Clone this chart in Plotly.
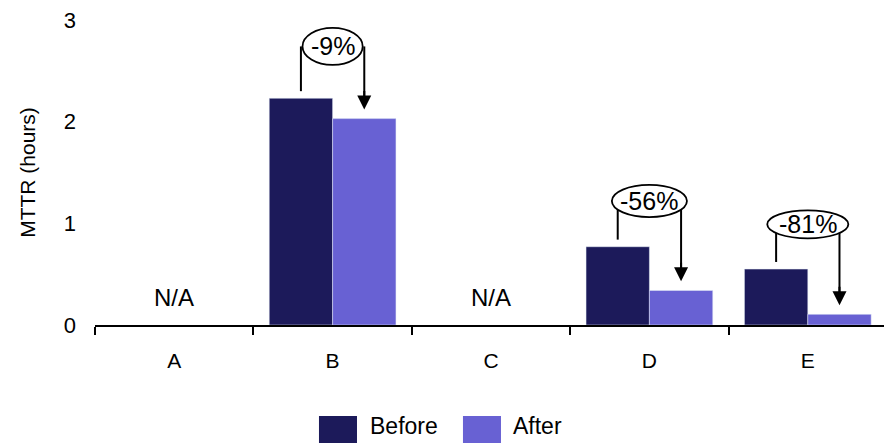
import plotly.graph_objects as go

categories = ["A", "B", "C", "D", "E"]
before = [None, 2.23, None, 0.77, 0.55]
after = [None, 2.03, None, 0.34, 0.105]
change_labels = [None, "-9%", None, "-56%", "-81%"]
na_labels = ["N/A", None, "N/A", None, None]
series_names = ["Before", "After"]
colors = ["#1C1A5A", "#6861D3"]

FONT = "Liberation Sans, Arial, sans-serif"

fig = go.Figure()
fig.add_trace(go.Bar(x=categories, y=before, name=series_names[0], marker_color=colors[0], showlegend=False))
fig.add_trace(go.Bar(x=categories, y=after, name=series_names[1], marker_color=colors[1], showlegend=False))

# callout geometry (styling, not data)
ell_rise = {1: 0.51, 3: 0.45, 4: 0.44}
ell_halfw = {1: 0.19, 3: 0.237, 4: 0.256}
ell_halfh = {1: 0.182, 3: 0.158, 4: 0.138}

shapes = []
annotations = []
for i, lab in enumerate(change_labels):
    if lab is None:
        continue
    b, a = before[i], after[i]
    cy = b + ell_rise[i]
    shapes.append(dict(type="line", xref="x", yref="y", x0=i - 0.2, x1=i - 0.2,
                       y0=b + 0.07, y1=cy, line=dict(color="black", width=2)))
    shapes.append(dict(type="line", xref="x", yref="y", x0=i + 0.2, x1=i + 0.2,
                       y0=cy, y1=a + 0.2, line=dict(color="black", width=2)))
    shapes.append(dict(type="circle", xref="x", yref="y",
                       x0=i - ell_halfw[i], x1=i + ell_halfw[i],
                       y0=cy - ell_halfh[i], y1=cy + ell_halfh[i],
                       fillcolor="white", line=dict(color="black", width=1.8)))
    annotations.append(dict(x=i, y=cy, xref="x", yref="y", text=lab, showarrow=False,
                            font=dict(family=FONT, size=25, color="black")))
    annotations.append(dict(x=i + 0.2, y=a + 0.09, xref="x", yref="y", text="",
                            showarrow=True, arrowhead=2, arrowsize=1.4, arrowwidth=2,
                            arrowcolor="black", ax=0, ay=-20))

for i, lab in enumerate(na_labels):
    if lab:
        annotations.append(dict(x=i, y=0.27, xref="x", yref="y", text=lab, showarrow=False,
                                font=dict(family=FONT, size=24, color="black")))

# custom legend
leg = [(0.2828, 0.3308, 0.3447), (0.4646, 0.5126, 0.5253)]
for (x0, x1, tx), name, col in zip(leg, series_names, colors):
    shapes.append(dict(type="rect", xref="paper", yref="paper", x0=x0, x1=x1,
                       y0=-0.41, y1=-0.298, fillcolor=col, line=dict(width=0)))
    annotations.append(dict(x=tx, y=-0.331, xref="paper", yref="paper", text=name,
                            showarrow=False, xanchor="left", yanchor="middle",
                            font=dict(family=FONT, size=23, color="black")))

# page body has an 8px margin, so the figure is sized to fit the 892x443 window
fig.update_layout(
    width=884, height=435,
    margin=dict(l=87, r=5, t=12, b=118, autoexpand=False),
    paper_bgcolor="white", plot_bgcolor="white",
    barmode="group", bargap=0.2, bargroupgap=0,
    font=dict(family=FONT, size=21, color="black"),
    shapes=shapes, annotations=annotations,
    xaxis=dict(showline=True, linecolor="black", linewidth=2, ticks="outside",
               tickson="boundaries", ticklen=8, tickwidth=2, tickcolor="black",
               showgrid=False, zeroline=False, ticklabelstandoff=16,
               tickfont=dict(family=FONT, size=21)),
    yaxis=dict(range=[0, 3], tickvals=[0, 1, 2, 3], showgrid=False, zeroline=False,
               showline=False, ticks="", ticklabelstandoff=18, ticklabeloverflow="allow",
               tickfont=dict(family=FONT, size=22),
               title=dict(text="MTTR (hours)", font=dict(family=FONT, size=21), standoff=22)),
)

fig.write_html("out.html")
